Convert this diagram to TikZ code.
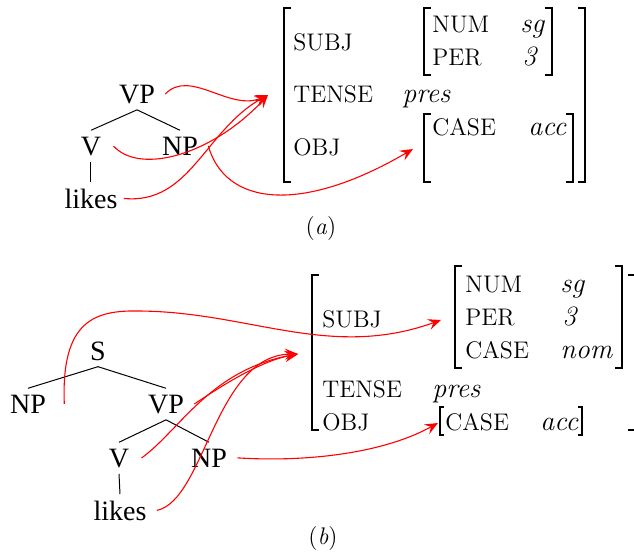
\documentclass[tikz,border=0pt]{standalone}
\usepackage{fontspec}
\newfontfamily\treefont{Liberation Serif}
\usetikzlibrary{arrows.meta}
\tikzset{tree/.style={anchor=base, inner sep=3pt, font=\fontsize{14}{16}\selectfont\treefont},
  feat/.style={anchor=base west, inner sep=0pt, font=\fontsize{12}{14}\selectfont},
  val/.style={anchor=base west, inner sep=0pt, font=\fontsize{14}{16}\selectfont\itshape},
  branch/.style={black, line width=0.5pt},
  brak/.style={black, line width=1pt},
  link/.style={red, line width=0.55pt, -{Stealth[length=6.5pt,width=5.5pt,inset=2.5pt]}}}
\newcommand\avmL[4][1pt]{\draw[brak, line width=#1] (#2+7,#3) -- (#2,#3) -- (#2,#4) -- (#2+7,#4);}
\newcommand\avmR[4][1pt]{\draw[brak, line width=#1] (#2-7,#3) -- (#2,#3) -- (#2,#4) -- (#2-7,#4);}
\begin{document}
\begin{tikzpicture}[x=0.5pt, y=-0.5pt]
  \useasboundingbox (0,0) rectangle (634,554);
  % (a)
  \node[tree] (vpa) at (137,103) {VP};
  \node[tree] (va) at (91,155) {V};
  \node[tree] (npa) at (180,155) {NP};
  \node[tree] (likesa) at (91,208) {likes};
  \draw[branch] (vpa.south) -- (va.north);
  \draw[branch] (vpa.south) -- (npa.north);
  \draw[branch] (va.south) -- (likesa.north);
  \node[feat] (subja) at (293,50) {SUBJ};
  \node[feat] (numa) at (432,32) {NUM};
  \node[val] (sga) at (520,32) {sg};
  \node[feat] (pera) at (432,65) {PER};
  \node[val] (thra) at (522,65) {3};
  \node[feat] (tensea) at (293,102) {TENSE};
  \node[val] (presa) at (402,102) {pres};
  \node[feat] (obja) at (293,155) {OBJ};
  \node[feat] (casea) at (432,135) {CASE};
  \node[val] (acca) at (528,135) {acc};
  \avmL[1.2pt]{284}{8}{182} \avmR[1.2pt]{585}{8}{182}
  \avmL{424}{8}{75} \avmR{552}{8}{75}
  \avmL{424}{114}{182} \avmR{573}{114}{182}
  \coordinate (tipa) at (268,95);
  \coordinate (tipaobj) at (413,149);
  \draw[link] ([xshift=2pt]vpa.east) .. controls (190,68) and (230,112) .. (tipa);
  \draw[link] ([xshift=3pt]va.east) .. controls (140,175) and (212,155) .. (tipa);
  \draw[link] (likesa.east) .. controls (190,205) and (205,130) .. (tipa);
  \draw[link] ([xshift=2pt]npa.east) .. controls (225,205) and (300,215) .. (tipaobj);
  \node[anchor=base, font=\fontsize{12}{14}\selectfont] (capa) at (321,234) {(\textit{a})};
  % (b)
  \node[tree] (sb) at (98,360) {S};
  \node[tree] (npb) at (28,413) {NP};
  \node[tree] (vpb) at (166,413) {VP};
  \node[tree] (vb) at (119,467) {V};
  \node[tree] (npob) at (209,467) {NP};
  \node[tree] (likesb) at (120,520) {likes};
  \draw[branch] (sb.south) -- (npb.north);
  \draw[branch] (sb.south) -- (vpb.north);
  \draw[branch] (vpb.south) -- (vb.north);
  \draw[branch] (vpb.south) -- (npob.north);
  \draw[branch] (vb.south) -- (likesb.north);
  \node[feat] (subjb) at (322,327) {SUBJ};
  \node[feat] (numb) at (465,292) {NUM};
  \node[val] (sgb) at (560,292) {sg};
  \node[feat] (perb) at (465,325) {PER};
  \node[val] (thrb) at (562,325) {3};
  \node[feat] (casenb) at (465,358) {CASE};
  \node[val] (nomb) at (560,358) {nom};
  \node[feat] (tenseb) at (322,397) {TENSE};
  \node[val] (presb) at (432,397) {pres};
  \node[feat] (objb) at (322,430) {OBJ};
  \node[feat] (caseab) at (445,430) {CASE};
  \node[val] (accb) at (540,430) {acc};
  \avmL[1.2pt]{312}{275}{430} \avmR[1.2pt]{635}{275}{430}
  \avmL{455}{266}{368} \avmR{622}{266}{368}
  \draw[brak, line width=0.8pt] (444,407) -- (440,407) -- (440,435) -- (444,435);
  \draw[brak, line width=0.8pt] (578,407) -- (582,407) -- (582,435) -- (578,435);
  \coordinate (tipbsubj) at (441,320);
  \coordinate (tipb) at (298,354);
  \coordinate (tipbobj) at (438,423);
  \draw[link] ([xshift=6pt]npb.east) .. controls (61,320) and (95,310) .. (140,311)
    .. controls (250,312) and (330,360) .. (tipbsubj);
  \draw[link] ([xshift=2pt]vpb.east) .. controls (230,380) and (265,360) .. (tipb);
  \draw[link] ([xshift=3pt]vb.east) .. controls (180,430) and (210,370) .. (tipb);
  \draw[link] ([xshift=2pt]likesb.east) .. controls (205,500) and (215,355) .. (tipb);
  \draw[link] ([xshift=2pt]npob.east) .. controls (300,462) and (380,455) .. (tipbobj);
  \node[anchor=base, font=\fontsize{12}{14}\selectfont] (capb) at (323,544) {(\textit{b})};
\end{tikzpicture}
\end{document}
